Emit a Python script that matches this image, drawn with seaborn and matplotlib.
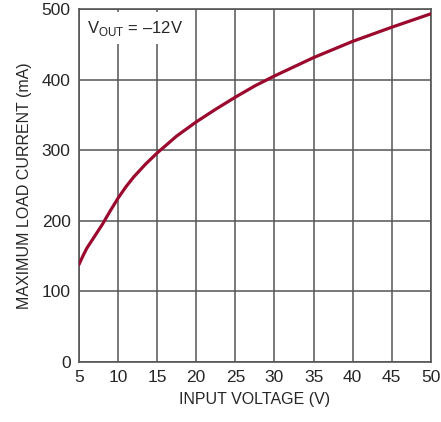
import matplotlib
matplotlib.use("Agg")
import matplotlib.pyplot as plt
import seaborn as sns
import pandas as pd

vin = [5, 5.5, 6, 7, 8, 9, 10, 11, 12, 13.5, 15, 17.5, 20, 22.5, 25, 27.5, 30, 35, 40, 45, 50]
iload = [138, 150, 161, 178, 195, 214, 232, 248, 262, 280, 296, 320, 340, 358, 375, 391, 405, 431, 454, 474, 493]
xticks = [5, 10, 15, 20, 25, 30, 35, 40, 45, 50]
yticks = [0, 100, 200, 300, 400, 500]

sns.set_style("white")
plt.rcParams["font.family"] = ["Liberation Sans", "DejaVu Sans"]
plt.rcParams["mathtext.fontset"] = "custom"
plt.rcParams["mathtext.rm"] = "Liberation Sans"

df = pd.DataFrame({"vin": vin, "iload": iload})

fig = plt.figure(figsize=(4.41, 4.22), dpi=100)
ax = fig.add_axes([0.179, 0.142, 0.798, 0.837])

grid = "#555555"
sns.lineplot(data=df, x="vin", y="iload", ax=ax, color="#9b0a2e", lw=2.3, zorder=3)

ax.set_xlim(5, 50)
ax.set_ylim(0, 500)
ax.set_xticks(xticks)
ax.set_yticks(yticks)
ax.grid(True, color=grid, lw=1.1)
ax.set_axisbelow(True)
for s in ax.spines.values():
    s.set_color(grid)
    s.set_linewidth(1.2)
ax.tick_params(length=0, labelsize=12.5, pad=6)

ax.set_xlabel("INPUT VOLTAGE (V)", fontsize=11.5, labelpad=5)
ax.set_ylabel("MAXIMUM LOAD CURRENT (mA)", fontsize=11.5, labelpad=7)

ax.text(6.0, 486, r"V$_{\mathrm{OUT}}$ = –12V", fontsize=12, va="top", ha="left", zorder=2,
        bbox=dict(facecolor="white", edgecolor="none", pad=4.5))

fig.savefig("out.png", dpi=100)
